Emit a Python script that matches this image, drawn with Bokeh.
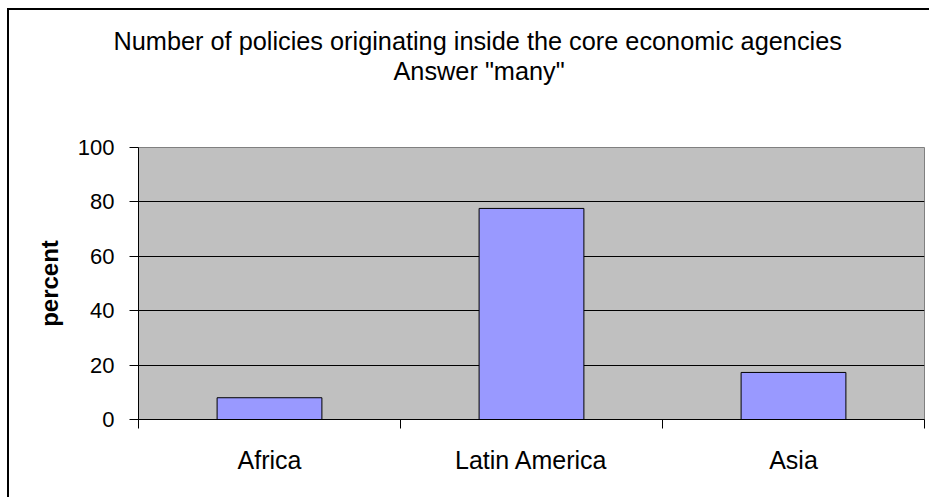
from bokeh.plotting import figure
from bokeh.models import Range1d, FixedTicker, Title, ColumnDataSource, InlineStyleSheet
from bokeh.embed import file_html
from bokeh.resources import INLINE

# Share of respondents answering "many", by region
regions = ["Africa", "Latin America", "Asia"]
percent_many = [8, 77.6, 17.3]
y_ticks = [0, 20, 40, 60, 80, 100]

title_lines = [
    "Number of policies originating inside the core economic agencies",
    'Answer "many"',
]
# left offset of each title line relative to the plot area
title_offsets = [-25, 255]

FONT = "Liberation Sans"

positions = [i + 0.5 for i in range(len(regions))]
source = ColumnDataSource(data=dict(x=positions, top=percent_many, region=regions))

p = figure(
    width=929, height=497,
    x_range=Range1d(0, len(regions)), y_range=Range1d(0, 100),
    output_backend="svg", toolbar_location=None,
    min_border_left=138, min_border_right=5,
    min_border_top=147, min_border_bottom=78,
)
p.background_fill_color = "#C0C0C0"
p.border_fill_color = "white"
p.outline_line_color = "#808080"
p.outline_line_width = 1

p.vbar(x="x", top="top", bottom=0, width=0.4, source=source,
       fill_color="#9999FF", line_color="black", line_width=1)

# horizontal grid
p.xgrid.grid_line_color = None
p.ygrid.grid_line_color = "black"
p.ygrid.grid_line_width = 1
p.ygrid.grid_line_alpha = 1

# y axis
p.yaxis.ticker = FixedTicker(ticks=y_ticks)
p.yaxis.axis_line_color = "black"
p.yaxis.axis_line_width = 1
p.yaxis.major_tick_in = 0
p.yaxis.major_tick_out = 9
p.yaxis.minor_tick_line_color = None
p.yaxis.major_label_standoff = 15
p.yaxis.major_label_text_font = FONT
p.yaxis.major_label_text_font_size = "22px"
p.yaxis.major_label_text_color = "black"
p.yaxis.axis_label = "percent"
p.yaxis.axis_label_text_font = FONT
p.yaxis.axis_label_text_font_size = "24px"
p.yaxis.axis_label_text_font_style = "bold"
p.yaxis.axis_label_text_color = "black"
p.yaxis.axis_label_standoff = 12

# x axis: labels at category centres, tick marks at category boundaries
p.xaxis.ticker = FixedTicker(ticks=positions,
                             minor_ticks=list(range(len(regions) + 1)))
p.xaxis.major_label_overrides = {pos: name for pos, name in zip(positions, regions)}
p.xaxis.major_tick_line_color = None
p.xaxis.minor_tick_line_color = "black"
p.xaxis.minor_tick_in = 0
p.xaxis.minor_tick_out = 9
p.xaxis.axis_line_color = "black"
p.xaxis.major_label_standoff = 17
p.xaxis.major_label_text_font = FONT
p.xaxis.major_label_text_font_size = "25px"
p.xaxis.major_label_text_color = "black"

# spacer between the plot area and the title block
p.add_layout(Title(text=" ", text_font_size="1px", standoff=60), "above")

# two-line chart title (the entry added first sits nearest the plot area)
for line, off in reversed(list(zip(title_lines, title_offsets))):
    p.add_layout(Title(
        text=line, align="left", offset=off, standoff=0,
        text_font=FONT, text_font_size="25.3px", text_font_style="normal",
        text_color="black",
    ), "above")

# chart area border
p.stylesheets = [InlineStyleSheet(css="""
:host { position: relative; overflow: hidden; }
:host::after {
  content: ""; position: absolute; left: 7px; top: 8px;
  right: -80px; bottom: -80px;
  border: 2.5px solid black; pointer-events: none;
}
""")]

open("out.html", "w").write(file_html(p, INLINE))
